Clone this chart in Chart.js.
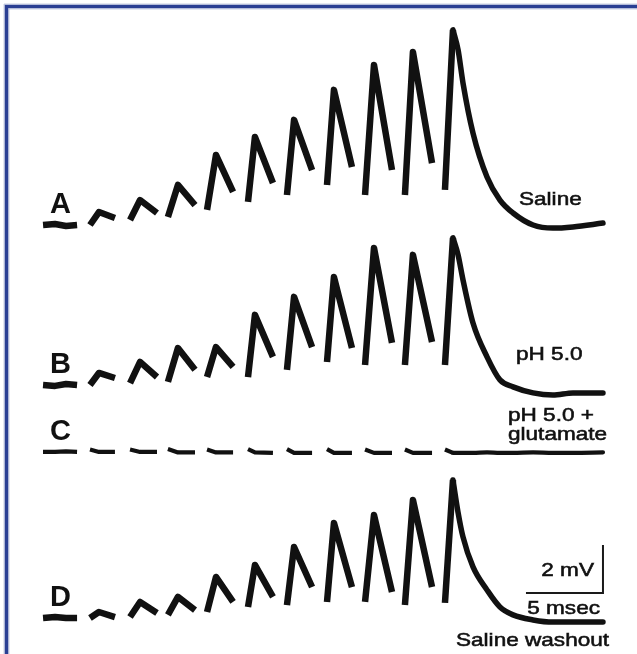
<!DOCTYPE html>
<html>
<head>
<meta charset="utf-8">
<script src="https://cdn.jsdelivr.net/npm/chart.js@4"></script>
<style>
html,body{margin:0;padding:0;background:#fff;}
#c{display:block;}
</style>
</head>
<body>
<canvas id="c" width="637" height="654"></canvas>
<script>
// ---- time points (msec, 0 = first stimulus) ----
const preMs        = [-3.05, -2.27, -1.56, -0.84];
const pulseOnsetMs = [0, 2.60, 5.06, 7.60, 10.26, 12.79, 15.39, 17.86, 20.45, 23.05];
const pulsePeakMs  = [0.58, 3.25, 5.71, 8.18, 10.71, 13.25, 15.84, 18.44, 20.97, 23.57];
const pulseEndMs   = [1.62, 4.35, 6.82, 9.29, 11.88, 14.42, 17.01, 19.61, 22.21];
const decayMs      = [23.90, 24.22, 24.87, 25.78, 26.62, 27.47, 28.77, 30.06, 31.36, 33.31];

// ---- trace letters and condition labels ----
const traceLetters = ['A', 'B', 'C', 'D'];
const conditionLabels = [['Saline'], ['pH 5.0'], ['pH 5.0 +', 'glutamate'], ['Saline washout']];

// ---- A: Saline (mV relative to baseline) ----
const salinePre   = [0, 0.04, -0.04, 0];
const salineBase  = [0, 0.21, 0.33, 0.63, 0.96, 1.25, 1.67, 1.25, 1.25, 1.46];
const salinePeak  = [0.54, 1.04, 1.67, 2.92, 3.67, 4.38, 5.63, 6.67, 7.21, 8.13];
const salineEnd   = [0.29, 0.50, 0.83, 1.38, 1.75, 2.29, 2.42, 2.29, 2.58];
const salineDecay = [7.30, 5.92, 3.83, 2.00, 1.04, 0.50, 0.00, -0.13, -0.08, 0.08];

// ---- B: pH 5.0 ----
const ph5Pre   = [0, -0.04, 0.04, 0];
const ph5Base  = [0, 0.08, 0.13, 0.33, 0.33, 0.63, 0.96, 0.83, 0.83, 0.83];
const ph5Peak  = [0.50, 0.96, 1.54, 1.58, 2.92, 3.67, 4.50, 5.71, 5.42, 6.13];
const ph5End   = [0.29, 0.33, 0.63, 0.75, 1.17, 1.58, 1.54, 1.75, 1.79];
const ph5Decay = [5.42, 4.38, 2.58, 1.17, 0.21, -0.08, -0.33, -0.42, -0.33, -0.33];

// ---- C: pH 5.0 + glutamate ----
const gluPre   = [0, 0, 0.02, 0];
const gluBase  = [0.10, 0.10, 0.12, 0.10, 0.12, 0.12, 0.12, 0.10, 0.10, 0.10];
const gluPeak  = [0, 0, -0.02, -0.02, -0.02, -0.04, -0.04, -0.04, -0.04, -0.04];
const gluEnd   = [0, 0, -0.02, -0.02, -0.04, -0.04, -0.04, -0.04, -0.04];
const gluDecay = [-0.04, -0.04, -0.04, -0.02, -0.04, -0.04, -0.02, -0.04, -0.04, -0.02];

// ---- D: Saline washout ----
const washPre   = [0, 0.04, 0, 0];
const washBase  = [0, 0.04, 0.13, 0.25, 0.46, 0.54, 0.67, 0.67, 0.54, 0.63];
const washPeak  = [0.25, 0.67, 0.88, 1.71, 2.21, 2.96, 3.96, 4.29, 4.92, 5.75];
const washEnd   = [0.04, 0.21, 0.33, 0.67, 0.88, 1.29, 1.29, 1.08, 1.29];
const washDecay = [4.40, 3.38, 2.13, 1.17, 0.46, 0.13, -0.08, -0.17, -0.17, -0.17];

// ---- scale bars ----
const scaleBarMs = 5;
const scaleBarMv = 2;

// vertical stacking of the traces (mV offset of each baseline on the shared axis)
const traceOffsets = [17.875, 11.21, 8.42, 1.5];

function buildPulses(pre, base, peak, end, off) {
  const pts = [];
  preMs.forEach((t, i) => pts.push({x: t, y: pre[i] + off}));
  for (let i = 0; i < pulseOnsetMs.length; i++) {
    pts.push({x: pulseOnsetMs[i] - 0.01, y: null});
    pts.push({x: pulseOnsetMs[i], y: base[i] + off});
    pts.push({x: pulsePeakMs[i], y: peak[i] + off});
    if (i < pulseEndMs.length) pts.push({x: pulseEndMs[i], y: end[i] + off});
  }
  return pts;
}
function buildDecay(peak, decay, off) {
  const last = pulsePeakMs.length - 1;
  const pts = [{x: pulsePeakMs[last], y: peak[last] + off}];
  decayMs.forEach((t, j) => pts.push({x: t, y: decay[j] + off}));
  return pts;
}

const traceStyle = (w) => ({
  showLine: true, borderColor: '#111', borderWidth: w, pointRadius: 0,
  tension: 0, spanGaps: false, borderCapStyle: 'butt', borderJoinStyle: 'round', fill: false
});
const decayStyle = (w) => Object.assign(traceStyle(w), {cubicInterpolationMode: 'monotone', borderCapStyle: 'round'});

const traces = [
  [salinePre, salineBase, salinePeak, salineEnd, salineDecay, 6.5],
  [ph5Pre, ph5Base, ph5Peak, ph5End, ph5Decay, 6.5],
  [gluPre, gluBase, gluPeak, gluEnd, gluDecay, 4.2],
  [washPre, washBase, washPeak, washEnd, washDecay, 6.5]
];

const barT = 33.31, barV = 2.54;
const datasets = [];
traces.forEach((tr, i) => {
  const [pre, base, peak, end, decay, w] = tr;
  datasets.push(Object.assign({data: buildPulses(pre, base, peak, end, traceOffsets[i])}, traceStyle(w)));
  datasets.push(Object.assign({data: buildDecay(peak, decay, traceOffsets[i])}, decayStyle(i === 2 ? w : w - 1)));
});
datasets.push(Object.assign({data: [
  {x: barT - scaleBarMs, y: barV}, {x: barT, y: barV}, {x: barT, y: barV + scaleBarMv}
]}, traceStyle(2), {borderJoinStyle: 'miter', borderColor: '#1a1a1a'}));

function wideText(ctx, txt, x, y, align) {
  const sx = 1.22;
  const w = ctx.measureText(txt).width * sx;
  const left = align === 'right' ? x - w : x;
  ctx.save();
  ctx.translate(left, y);
  ctx.scale(sx, 1);
  ctx.textAlign = 'left';
  ctx.lineWidth = 0.55;
  ctx.strokeStyle = '#111';
  ctx.fillText(txt, 0, 0);
  ctx.strokeText(txt, 0, 0);
  ctx.restore();
}

const decorPlugin = {
  id: 'decor',
  beforeDraw(chart) {
    const ctx = chart.ctx;
    ctx.save();
    ctx.fillStyle = '#fff';
    ctx.fillRect(0, 0, chart.width, chart.height);
    ctx.restore();
  },
  afterDraw(chart) {
    const ctx = chart.ctx;
    const xs = chart.scales.x, ys = chart.scales.y;
    ctx.save();
    // frame
    ctx.strokeStyle = '#2a3f93';
    ctx.lineWidth = 3.6;
    ctx.beginPath();
    ctx.moveTo(6.5, chart.height);
    ctx.lineTo(6.5, 6.5);
    ctx.lineTo(chart.width, 6.5);
    ctx.stroke();
    ctx.strokeStyle = 'rgba(42,63,147,0.25)';
    ctx.lineWidth = 1;
    ctx.beginPath();
    ctx.moveTo(4, chart.height); ctx.lineTo(4, 4); ctx.lineTo(chart.width, 4);
    ctx.moveTo(9, chart.height); ctx.lineTo(9, 9); ctx.lineTo(chart.width, 9);
    ctx.stroke();

    ctx.fillStyle = '#111';
    ctx.textBaseline = 'alphabetic';
    // trace letters
    ctx.font = 'bold 29px "Liberation Sans", Arial, sans-serif';
    ctx.textAlign = 'left';
    const letterX = xs.getPixelForValue(-2.6);
    traceLetters.forEach((l, i) => {
      const yb = ys.getPixelForValue(traceOffsets[i]);
      ctx.fillText(l, letterX, yb - 12);
    });

    // condition labels
    ctx.font = '18.5px "Liberation Sans", Arial, sans-serif';
    wideText(ctx, conditionLabels[0][0], 519, 205);
    wideText(ctx, conditionLabels[1][0], 516, 360);
    wideText(ctx, conditionLabels[2][0], 508, 421);
    wideText(ctx, conditionLabels[2][1], 508, 440);
    wideText(ctx, conditionLabels[3][0], 456, 646);

    // scale-bar labels
    wideText(ctx, scaleBarMv + ' mV', xs.getPixelForValue(barT) - 9, ys.getPixelForValue(barV + scaleBarMv / 2) + 7, 'right');
    wideText(ctx, scaleBarMs + ' msec', xs.getPixelForValue(barT) - 3, ys.getPixelForValue(barV) + 21, 'right');
    ctx.restore();
  }
};

new Chart(document.getElementById('c'), {
  type: 'scatter',
  data: {datasets},
  options: {
    responsive: false,
    devicePixelRatio: 1,
    animation: false,
    events: [],
    layout: {padding: 0},
    plugins: {legend: {display: false}, tooltip: {enabled: false}},
    scales: {
      x: {type: 'linear', display: false, min: -90 / 15.4, max: (637 - 90) / 15.4},
      y: {type: 'linear', display: false, min: 0, max: 654 / 24}
    }
  },
  plugins: [decorPlugin]
});
</script>
</body>
</html>
